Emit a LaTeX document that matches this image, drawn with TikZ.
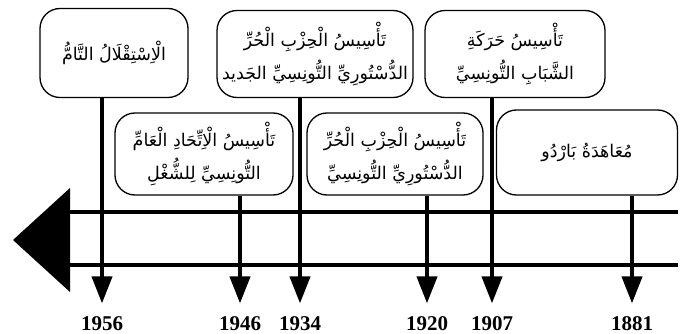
\documentclass[tikz,border=0pt]{standalone}
\usepackage{fontspec}
\setmainfont{Liberation Serif}
\newfontfamily\arabicfont[Script=Arabic]{DejaVu Sans}
\TeXXeTstate=1
\usetikzlibrary{arrows.meta, positioning}

\begin{document}
\begin{tikzpicture}[x=1pt, y=-1pt,
      event/.style={draw, line width=1.3pt, rounded corners=20pt,
                    align=center, inner sep=0pt,
                    font=\arabicfont\fontsize{17.5}{33}\selectfont},
      year/.style={font=\fontsize{21}{21}\selectfont\bfseries},
      axis/.style={line width=4pt},
      arrow/.style={-{Triangle[length=27pt, width=20pt]}, line width=4pt}
    ]
    \useasboundingbox (0,0) rectangle (690,334);
    % top row
    \node[event, minimum width=148pt, minimum height=89pt] (b1956) at (114,53)
      {\beginR الْاِسْتِقْلَالُ التَّامُّ\endR};
    \node[event, minimum width=196pt, minimum height=87pt] (b1934) at (315,54)
      {\beginR تَأْسِيسُ الْحِزْبِ الْحُرِّ\endR\\\beginR الدُّسْتُورِيِّ التُّونِسِيِّ الجَديد\endR};
    \node[event, minimum width=180pt, minimum height=87pt] (b1907) at (515,54)
      {\beginR تَأْسِيسُ حَرَكَةِ\endR\\\beginR الشَّبَابِ التُّونِسِيِّ\endR};
    % bottom row
    \node[event, minimum width=178pt, minimum height=82pt] (b1946) at (204,154)
      {\beginR تَأْسِيسُ الْاِتِّحَادِ الْعَامِّ\endR\\\beginR التُّونِسِيِّ لِلشُّغْلِ\endR};
    \node[event, minimum width=176pt, minimum height=82pt] (b1920) at (395,154)
      {\beginR تَأْسِيسُ الْحِزْبِ الْحُرِّ\endR\\\beginR الدُّسْتُورِيِّ التُّونِسِيِّ\endR};
    \node[event, minimum width=181pt, minimum height=85pt] (b1881) at (587,152.5)
      {\beginR مُعَاهَدَةُ بَارْدُو\endR};
    % time axis
    \coordinate (axisL) at (70,240);
    \coordinate (axisR) at (678,240);
    \draw[axis] ([yshift=28pt]axisL) -- ([yshift=28pt]axisR);
    \draw[axis] ([yshift=-25pt]axisL) -- ([yshift=-25pt]axisR);
    \fill (13,240) -- (70,188) -- (70,292) -- cycle;
    % years
    \node[year] (y1956) at (102,324) {1956};
    \node[year] (y1946) at (240,324) {1946};
    \node[year] (y1934) at (300,324) {1934};
    \node[year] (y1920) at (427,324) {1920};
    \node[year] (y1907) at (492,324) {1907};
    \node[year] (y1881) at (632,324) {1881};
    \draw[arrow] (b1956.south -| y1956) -- ([yshift=10pt]y1956.north);
    \draw[arrow] (b1946.south -| y1946) -- ([yshift=10pt]y1946.north);
    \draw[arrow] (b1934.south -| y1934) -- ([yshift=10pt]y1934.north);
    \draw[arrow] (b1920.south -| y1920) -- ([yshift=10pt]y1920.north);
    \draw[arrow] (b1907.south -| y1907) -- ([yshift=10pt]y1907.north);
    \draw[arrow] (b1881.south -| y1881) -- ([yshift=10pt]y1881.north);
  \end{tikzpicture}
\end{document}
